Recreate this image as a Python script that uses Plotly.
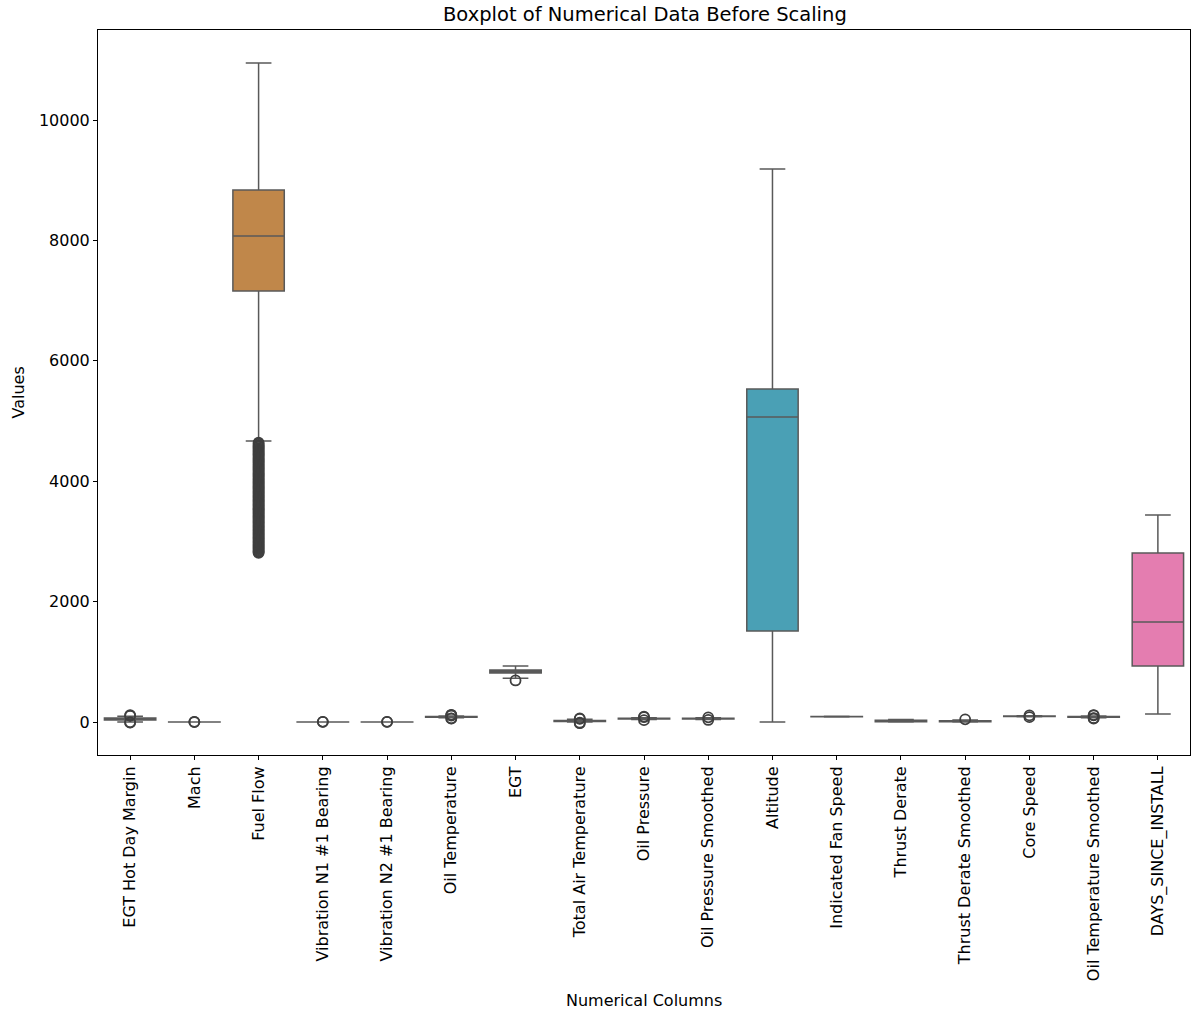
import plotly.graph_objects as go

# Column names, one box per numerical column
columns = [
    "EGT Hot Day Margin", "Mach", "Fuel Flow", "Vibration N1 #1 Bearing",
    "Vibration N2 #1 Bearing", "Oil Temperature", "EGT", "Total Air Temperature",
    "Oil Pressure", "Oil Pressure Smoothed", "Altitude", "Indicated Fan Speed",
    "Thrust Derate", "Thrust Derate Smoothed", "Core Speed",
    "Oil Temperature Smoothed", "DAYS_SINCE_INSTALL",
]

# Summary statistics per column
lower_whisker = [0, 0.3, 4668, 0, 0, 70, 725, 0, 40, 42, 0, 82, 0, 0, 88, 70, 133]
q1_values = [35, 0.55, 7159, 0.3, 0.4, 80, 815, 10, 50, 50, 1512, 86, 5, 3, 92, 80, 930]
median_values = [50, 0.7, 8073, 0.5, 0.6, 85, 840, 18, 55, 55, 5066, 88, 15, 10, 95, 85, 1661]
q3_values = [65, 0.8, 8837, 0.8, 0.9, 92, 865, 25, 62, 62, 5532, 92, 30, 20, 98, 92, 2807]
upper_whisker = [95, 0.95, 10947, 1.5, 1.5, 100, 930, 45, 72, 72, 9186, 96, 40, 35, 102, 100, 3439]

# Points beyond the whiskers
outliers = {
    "EGT Hot Day Margin": [112, 104, -6, -10],
    "Mach": [1.0, 0.05],
    "Fuel Flow": [
        4642, 4622, 4601, 4584, 4570, 4551, 4533, 4515, 4498, 4480, 4462,
        4447, 4430, 4410, 4391, 4373, 4355, 4339, 4322, 4305, 4287, 4268,
        4250, 4232, 4214, 4197, 4180, 4160, 4141, 4125, 4108, 4090, 4072,
        4053, 4035, 4018, 4001, 3984, 3966, 3948, 3930, 3914, 3897, 3879,
        3861, 3843, 3826, 3808, 3790, 3772, 3755, 3737, 3719, 3702, 3684,
        3667, 3650, 3631, 3613, 3596, 3578, 3561, 3544, 3525, 3507, 3489,
        3471, 3454, 3436, 3419, 3402, 3384, 3366, 3348, 3330, 3313, 3296,
        3278, 3259, 3242, 3225, 3207, 3190, 3171, 3153, 3136, 3118, 3101,
        3083, 3066, 3048, 3030, 3012, 2995, 2977, 2959, 2941, 2924, 2906,
        2889, 2872, 2855, 2838, 2823, 2809,
    ],
    "Vibration N1 #1 Bearing": [3.5, 2.8],
    "Vibration N2 #1 Bearing": [3.0, 2.2],
    "Oil Temperature": [55, 62, 108, 115, 120],
    "EGT": [690],
    "Total Air Temperature": [-20, -12, 52, 60],
    "Oil Pressure": [30, 82, 88],
    "Oil Pressure Smoothed": [34, 78],
    "Thrust Derate Smoothed": [45],
    "Core Speed": [80, 110],
    "Oil Temperature Smoothed": [58, 64, 110, 116],
}

# husl-style palette, desaturated
palette = [
    "#DA7B87", "#D27F5E", "#C0874A", "#AA8F45", "#939746", "#7C9D46",
    "#4FA55A", "#4CA483", "#4CA398", "#4BA2A8", "#4AA0B5", "#549BC5",
    "#7B94D2", "#A08BD6", "#BE82D3", "#D67CC4", "#E47DB0",
]

line_gray = "#595959"
flier_gray = "#3f3f3f"
font_family = "DejaVu Sans, Liberation Sans, sans-serif"

fig = go.Figure()

for i, name in enumerate(columns):
    fig.add_trace(go.Box(
        x=[name],
        q1=[q1_values[i]],
        median=[median_values[i]],
        q3=[q3_values[i]],
        lowerfence=[lower_whisker[i]],
        upperfence=[upper_whisker[i]],
        width=0.8,
        whiskerwidth=0.5,
        fillcolor=palette[i],
        line=dict(color=line_gray, width=1.5),
        boxpoints=False,
        showlegend=False,
        hoverinfo="y",
    ))

for name, vals in outliers.items():
    fig.add_trace(go.Scatter(
        x=[name] * len(vals),
        y=vals,
        mode="markers",
        marker=dict(symbol="circle-open", size=10, color=flier_gray,
                    line=dict(width=1.8, color=flier_gray)),
        showlegend=False,
        hoverinfo="y",
    ))

fig.update_layout(
    width=1192,
    height=1012,
    margin=dict(l=98, r=2, t=30, b=257),
    plot_bgcolor="white",
    paper_bgcolor="white",
    font=dict(family=font_family, size=16, color="#000000"),
    boxmode="overlay",
    title=dict(
        text="Boxplot of Numerical Data Before Scaling",
        x=0.541, xanchor="center",
        y=0.986, yanchor="middle",
        font=dict(size=19.5, family=font_family, color="#000000"),
    ),
    annotations=[
        dict(text="Values", x=18, y=0.5, xref="paper", yref="paper",
             xanchor="center", yanchor="middle", textangle=-90,
             showarrow=False, font=dict(size=16)),
        dict(text="Numerical Columns", x=0.5, y=1000, xref="paper",
             yref="paper", xanchor="center", yanchor="middle",
             showarrow=False, font=dict(size=16)),
    ],
)

# Axis-title positions in pixels, converted to paper coordinates
plot_w = 1192 - 98 - 2
plot_h = 1012 - 30 - 257
fig.layout.annotations[0].x = (18 - 98) / plot_w
fig.layout.annotations[1].y = -(1000 - (1012 - 257)) / plot_h

fig.update_xaxes(
    type="category",
    categoryorder="array",
    categoryarray=columns,
    range=[-0.5, 16.5],
    tickangle=-90,
    ticks="outside",
    ticklen=4,
    tickcolor="#000000",
    showline=True,
    linecolor="#000000",
    linewidth=1,
    mirror=True,
    showgrid=False,
    zeroline=False,
    tickfont=dict(size=16),
)
fig.update_yaxes(
    range=[-548, 11495],
    tickvals=[0, 2000, 4000, 6000, 8000, 10000],
    ticktext=["0", "2000", "4000", "6000", "8000", "10000"],
    ticks="outside",
    ticklen=4,
    tickcolor="#000000",
    showline=True,
    linecolor="#000000",
    linewidth=1,
    mirror=True,
    showgrid=False,
    zeroline=False,
    tickfont=dict(size=16),
)

fig.write_html("out.html")
